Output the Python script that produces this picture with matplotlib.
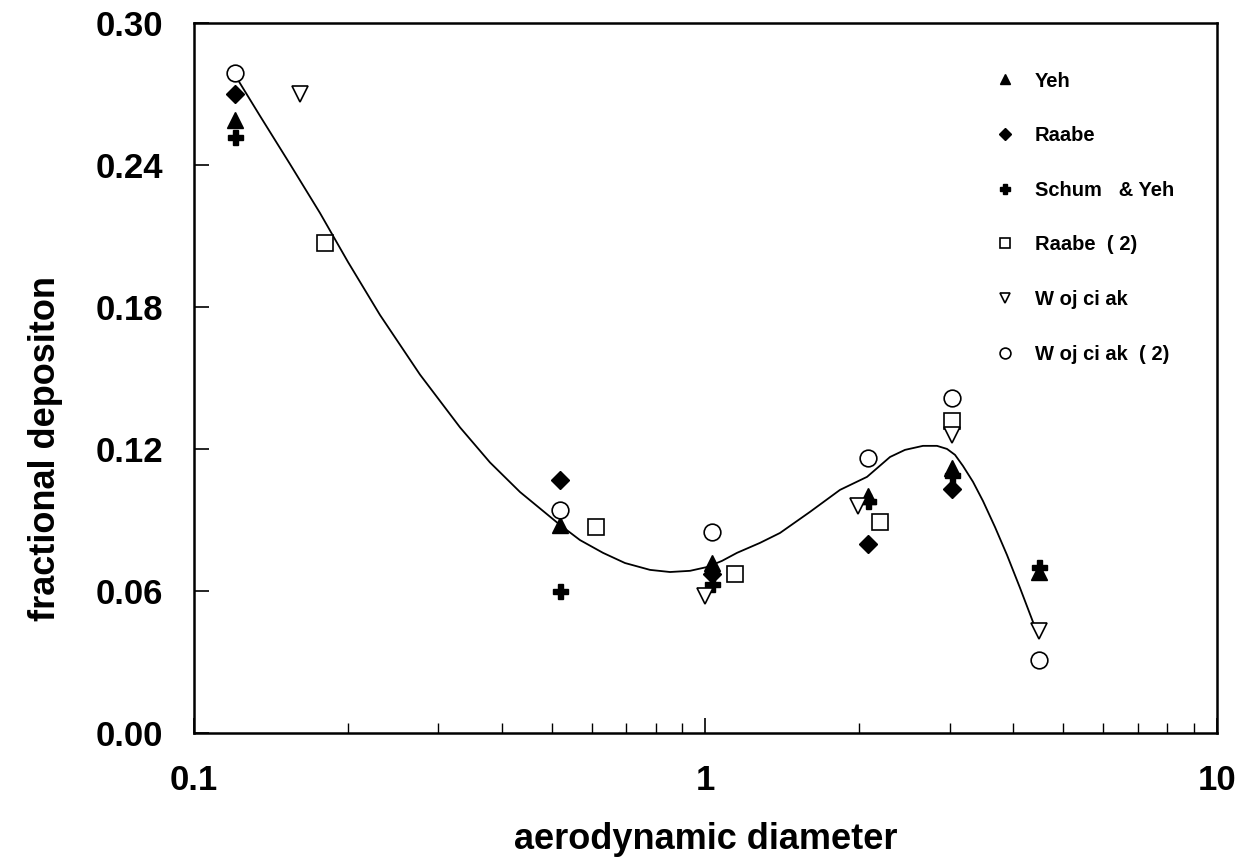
import matplotlib
matplotlib.use("Agg")
import matplotlib.pyplot as plt
import matplotlib.ticker as ticker

plt.rcParams['font.family'] = ['Liberation Sans', 'DejaVu Sans']

# data
yeh_x = [0.12, 0.52, 1.03, 2.08, 3.03, 4.49]
yeh_y = [0.259, 0.088, 0.072, 0.100, 0.112, 0.068]

raabe_x = [0.12, 0.52, 1.03, 2.08, 3.03]
raabe_y = [0.270, 0.107, 0.067, 0.080, 0.103]

schum_x = [0.12, 0.52, 1.03, 2.08, 3.03, 4.49]
schum_y = [0.252, 0.060, 0.063, 0.098, 0.109, 0.070]

raabe2_x = [0.18, 0.61, 1.14, 2.19, 3.03]
raabe2_y = [0.207, 0.087, 0.067, 0.089, 0.132]

wojciak_x = [0.161, 1.0, 1.99, 3.03, 4.49]
wojciak_y = [0.270, 0.058, 0.096, 0.126, 0.043]

wojciak2_x = [0.12, 0.52, 1.03, 2.08, 3.03, 4.49]
wojciak2_y = [0.279, 0.094, 0.085, 0.116, 0.1415, 0.031]

# fitted curve, points
fit_x = [0.1192, 0.1346, 0.1540, 0.1763, 0.2000, 0.2310, 0.2766, 0.3312,
         0.3790, 0.4339, 0.5195, 0.5683, 0.6304, 0.6960, 0.7791, 0.8524,
         0.9327, 1.0068, 1.0771, 1.1525, 1.2779, 1.3986, 1.6006, 1.8323,
         2.0694, 2.2951, 2.4549, 2.6620, 2.8353, 2.9659, 3.0750, 3.1877,
         3.3345, 3.4878, 3.6815, 3.8858, 4.1200, 4.3681, 4.4676]
fit_y = [0.2793, 0.2607, 0.2404, 0.2197, 0.1990, 0.1766, 0.1514, 0.1291,
         0.1143, 0.1018, 0.0879, 0.0815, 0.0761, 0.0718, 0.0689, 0.0680,
         0.0685, 0.0701, 0.0727, 0.0761, 0.0803, 0.0845, 0.0934, 0.1027,
         0.1082, 0.1166, 0.1196, 0.1213, 0.1213, 0.1200, 0.1175, 0.1128,
         0.1061, 0.0980, 0.0870, 0.0752, 0.0613, 0.0469, 0.0418]


def draw():
    fig = plt.figure(figsize=(12.46, 8.67), dpi=100)
    ax = fig.add_axes([0.1557, 0.1546, 0.821, 0.819])

    ax.plot(fit_x, fit_y, color='black', lw=1.3, zorder=2)

    ms = 12
    ax.plot(yeh_x, yeh_y, '^', color='black', ms=ms, ls='none', label='Yeh', zorder=3)
    ax.plot(raabe_x, raabe_y, 'D', color='black', ms=ms * 0.8, ls='none', label='Raabe', zorder=3)
    ax.plot(schum_x, schum_y, 'P', color='black', ms=ms * 0.9, ls='none',
            label='Schum   & Yeh', zorder=3)
    ax.plot(raabe2_x, raabe2_y, 's', mfc='white', mec='black', mew=1.2, ms=ms,
            ls='none', label='Raabe  ( 2)', zorder=3)
    ax.plot(wojciak_x, wojciak_y, 'v', mfc='white', mec='black', mew=1.2, ms=ms,
            ls='none', label='W oj ci ak', zorder=3)
    ax.plot(wojciak2_x, wojciak2_y, 'o', mfc='white', mec='black', mew=1.2, ms=ms,
            ls='none', label='W oj ci ak  ( 2)', zorder=3)

    ax.set_xscale('log')
    ax.set_xlim(0.1, 10)
    ax.set_ylim(0, 0.30)
    ax.yaxis.set_major_locator(ticker.MultipleLocator(0.06))
    ax.yaxis.set_major_formatter(ticker.FormatStrFormatter('%.2f'))
    ax.xaxis.set_major_locator(ticker.FixedLocator([0.1, 1, 10]))
    ax.xaxis.set_major_formatter(ticker.FixedFormatter(['0.1', '1', '10']))
    ax.xaxis.set_minor_locator(ticker.LogLocator(base=10, subs=range(2, 10)))
    ax.xaxis.set_minor_formatter(ticker.NullFormatter())

    ax.tick_params(axis='both', which='major', direction='in', length=11, width=1.2,
                   labelsize=25, pad=22)
    ax.tick_params(axis='x', which='minor', direction='in', length=7, width=1.0)
    for lab in ax.get_xticklabels() + ax.get_yticklabels():
        lab.set_fontweight('bold')
    for sp in ax.spines.values():
        sp.set_linewidth(1.8)

    ax.set_xlabel('aerodynamic diameter', fontsize=26, fontweight='bold', labelpad=18)
    ax.set_ylabel('fractional depositon', fontsize=26, fontweight='bold')
    ax.yaxis.set_label_coords(-0.128, 0.40)

    ax.legend(loc='upper left', frameon=False, markerscale=0.65,
              prop={'weight': 'bold', 'size': 14.5}, labelspacing=1.77,
              handlelength=2.0, handletextpad=0.5, borderpad=0.4,
              bbox_to_anchor=(0.755, 0.957))

    fig.savefig('out.png', dpi=100)


if __name__ == "__main__":
    draw()
